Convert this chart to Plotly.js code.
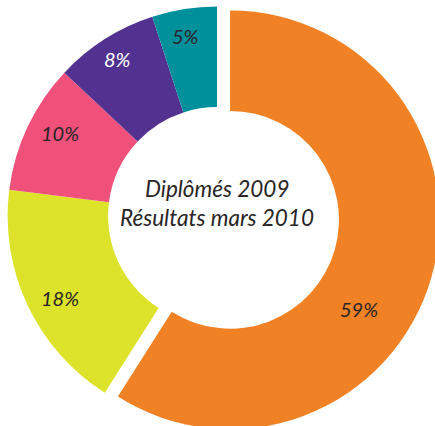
<!DOCTYPE html>
<html>
<head>
<meta charset="utf-8">
<script src="https://cdn.plot.ly/plotly-3.0.1.min.js"></script>
<style>
  html, body { margin: 0; padding: 0; background: #ffffff; overflow: hidden; width: 435px; height: 426px; }
  #chart { position: absolute; left: -6px; top: -7px; width: 446px; height: 446px; }
</style>
</head>
<body>
<div id="chart"></div>
<script>
// Data
const categories = ["A", "B", "C", "D", "E"];
const values = [59, 18, 10, 8, 5];
const sliceLabels = ["59%", "18%", "10%", "8%", "5%"];
const centerLines = ["Diplômés 2009", "Résultats mars 2010"];

// Styles
const colors = ["#F08225", "#DDE32B", "#EF517B", "#523191", "#00909C"];
const labelColors = ["#2a2526", "#2a2526", "#2a2526", "#ffffff", "#2a2526"];
const pulls = [0.065, 0, 0, 0, 0];
// label centres in page pixels
const labelPos = [[359, 309], [60, 298], [60, 133], [117, 59], [185, 36]];
const W = 446, H = 446, OX = -6, OY = -7;
const px = x => (x - OX) / W;
const py = y => 1 - (y - OY) / H;

const annotations = sliceLabels.map((t, i) => ({
  text: t, showarrow: false, xref: "paper", yref: "paper",
  x: px(labelPos[i][0]), y: py(labelPos[i][1]), xanchor: "center", yanchor: "middle",
  font: { family: "Lato, 'Open Sans', sans-serif", size: 20, style: "italic", color: labelColors[i] }
}));
const centerY = [189, 217];
centerLines.forEach((t, i) => annotations.push({
  text: t, showarrow: false, xref: "paper", yref: "paper",
  x: px(217), y: py(centerY[i]), xanchor: "center", yanchor: "middle",
  font: { family: "Lato, 'Open Sans', sans-serif", size: 22.5, style: "italic", color: "#2a2526" }
}));

const trace = {
  type: "pie",
  labels: categories,
  values: values,
  sort: false,
  direction: "clockwise",
  rotation: 0,
  hole: 0.52,
  pull: pulls,
  textinfo: "none",
  hoverinfo: "skip",
  marker: { colors: colors, line: { width: 0 } },
  domain: { x: [0, 1], y: [0, 1] }
};

Plotly.newPlot("chart", [trace], {
  width: W, height: H,
  margin: { l: 0, r: 0, t: 0, b: 0 },
  showlegend: false,
  paper_bgcolor: "#ffffff",
  plot_bgcolor: "#ffffff",
  annotations: annotations
}, { displayModeBar: false, staticPlot: true });
</script>
</body>
</html>
